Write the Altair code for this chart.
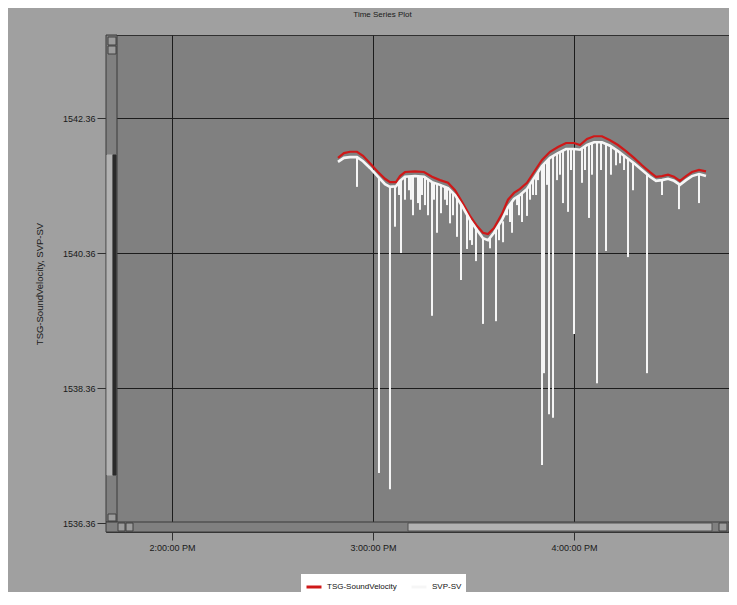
import altair as alt
import pandas as pd

DATE = "2014-06-10"
FONT = "Liberation Sans, Arial, sans-serif"

series_names = ["TSG-SoundVelocity", "SVP-SV"]
series_colors = ["#cf1818", "#f6f6f6"]

tsg_time = ["14:49:33", "14:51:20", "14:53:08", "14:55:13", "14:57:01", "14:59:06", "15:01:29", "15:03:35",
            "15:05:04", "15:06:52", "15:08:04", "15:09:33", "15:12:32", "15:15:13", "15:17:37", "15:20:00",
            "15:22:23", "15:24:29", "15:26:34", "15:28:57", "15:31:03", "15:32:50", "15:34:20", "15:36:07",
            "15:38:30", "15:40:18", "15:42:05", "15:43:53", "15:45:58", "15:48:04", "15:50:27", "15:52:50",
            "15:55:13", "15:57:37", "16:00:00", "16:01:47", "16:03:53", "16:05:58", "16:08:21", "16:10:45",
            "16:13:08", "16:15:31", "16:17:55", "16:20:18", "16:22:41", "16:24:29", "16:26:16", "16:28:04",
            "16:29:51", "16:31:38", "16:33:26", "16:35:13", "16:37:19", "16:39:24"]
tsg_val = [1541.77, 1541.84, 1541.86, 1541.86, 1541.80, 1541.69, 1541.56, 1541.46,
           1541.41, 1541.41, 1541.50, 1541.56, 1541.57, 1541.56, 1541.49, 1541.44,
           1541.40, 1541.29, 1541.12, 1540.91, 1540.76, 1540.66, 1540.64, 1540.73,
           1540.94, 1541.15, 1541.25, 1541.31, 1541.40, 1541.56, 1541.74, 1541.86,
           1541.93, 1541.99, 1541.99, 1541.96, 1542.05, 1542.09, 1542.09, 1542.03,
           1541.96, 1541.87, 1541.77, 1541.66, 1541.56, 1541.49, 1541.50, 1541.52,
           1541.49, 1541.43, 1541.50, 1541.56, 1541.59, 1541.57]

svp_time = list(tsg_time)
svp_val = [1541.71, 1541.77, 1541.78, 1541.78, 1541.72, 1541.62, 1541.49, 1541.38,
           1541.34, 1541.35, 1541.43, 1541.49, 1541.50, 1541.49, 1541.41, 1541.37,
           1541.32, 1541.22, 1541.06, 1540.85, 1540.70, 1540.58, 1540.55, 1540.66,
           1540.85, 1541.04, 1541.16, 1541.22, 1541.31, 1541.47, 1541.65, 1541.77,
           1541.84, 1541.90, 1541.90, 1541.89, 1541.96, 1542.00, 1542.00, 1541.95,
           1541.87, 1541.78, 1541.69, 1541.59, 1541.49, 1541.43, 1541.44, 1541.46,
           1541.43, 1541.37, 1541.44, 1541.50, 1541.53, 1541.50]

# SVP-SV dropouts (spikes): time, lowest value, value of the line where it starts
spike_time = ["14:55:13", "15:01:47", "15:05:04", "15:06:34", "15:07:46", "15:08:21", "15:09:33", "15:10:45",
              "15:11:20", "15:11:56", "15:13:26", "15:14:02", "15:14:38", "15:15:31", "15:16:25", "15:17:37",
              "15:18:13", "15:19:06", "15:20:18", "15:21:29", "15:22:05", "15:22:59", "15:23:53", "15:25:04",
              "15:26:16", "15:28:04", "15:28:57", "15:29:33", "15:30:45", "15:32:50", "15:34:56", "15:36:43",
              "15:37:37", "15:38:49", "15:40:00", "15:40:54", "15:41:30", "15:43:00", "15:43:35", "15:44:29",
              "15:45:58", "15:46:52", "15:47:46", "15:48:40", "15:49:15", "15:50:27", "15:51:03", "15:51:56",
              "15:52:32", "15:53:44", "15:54:56", "15:55:49", "15:56:43", "15:58:13", "15:59:06", "16:00:00",
              "16:02:23", "16:03:17", "16:04:29", "16:05:22", "16:06:52", "16:08:04", "16:09:33", "16:11:02",
              "16:12:32", "16:13:44", "16:14:56", "16:16:07", "16:17:37", "16:21:47", "16:26:16", "16:31:20",
              "16:37:19"]
spike_low = [1541.34, 1537.10, 1536.86, 1540.75, 1541.22, 1540.36, 1541.15, 1541.29,
             1541.15, 1540.92, 1541.10, 1541.00, 1541.22, 1541.07, 1540.92, 1539.43,
             1541.15, 1540.66, 1540.95, 1541.15, 1541.07, 1540.80, 1540.92, 1540.60,
             1539.96, 1540.42, 1540.55, 1540.48, 1540.24, 1539.31, 1540.43, 1539.35,
             1540.55, 1540.52, 1540.92, 1540.82, 1540.66, 1541.07, 1540.92, 1540.82,
             1540.91, 1541.15, 1541.22, 1541.22, 1541.44, 1537.22, 1538.58, 1541.37,
             1537.97, 1537.92, 1541.44, 1541.52, 1541.10, 1540.97, 1541.59, 1539.16,
             1541.40, 1541.59, 1540.88, 1541.52, 1538.43, 1541.59, 1540.39, 1541.52,
             1541.66, 1541.69, 1541.59, 1540.30, 1541.29, 1538.58, 1541.22, 1541.01,
             1541.10]
spike_top = [1541.78, 1541.48, 1541.34, 1541.35, 1541.40, 1541.44, 1541.49, 1541.50,
             1541.50, 1541.50, 1541.50, 1541.50, 1541.49, 1541.49, 1541.45, 1541.41,
             1541.40, 1541.39, 1541.37, 1541.34, 1541.32, 1541.30, 1541.25, 1541.18,
             1541.08, 1540.93, 1540.85, 1540.80, 1540.72, 1540.58, 1540.58, 1540.71,
             1540.78, 1540.83, 1541.02, 1541.08, 1541.12, 1541.19, 1541.21, 1541.24,
             1541.31, 1541.38, 1541.45, 1541.50, 1541.55, 1541.65, 1541.68, 1541.73,
             1541.76, 1541.80, 1541.83, 1541.86, 1541.88, 1541.90, 1541.90, 1541.90,
             1541.91, 1541.94, 1541.97, 1541.99, 1542.00, 1542.00, 1541.97, 1541.93,
             1541.89, 1541.84, 1541.80, 1541.76, 1541.70, 1541.53, 1541.44, 1541.38,
             1541.53]

y_ticks = [1536.36, 1538.36, 1540.36, 1542.36]
y_domain = [1536.227, 1543.590]
x_ticks = ["14:00:00", "15:00:00", "16:00:00"]
x_domain = ["13:40:18", "16:46:16"]


def ts(t):
    return f"{DATE}T{t}"


def dt(t):
    h, m, s = (int(p) for p in t.split(":"))
    return alt.DateTime(year=2014, month=6, date=10, hours=h, minutes=m, seconds=s)


tsg_df = pd.DataFrame({"time": [ts(t) for t in tsg_time], "value": tsg_val, "series": series_names[0]})
svp_df = pd.DataFrame({"time": [ts(t) for t in svp_time], "value": svp_val, "series": series_names[1]})
spike_df = pd.DataFrame({"time": [ts(t) for t in spike_time], "low": spike_low, "top": spike_top,
                         "series": series_names[1]})

color = alt.Color(
    "series:N",
    scale=alt.Scale(domain=series_names, range=series_colors),
    legend=alt.Legend(
        title=None, orient="none", legendX=195, legendY=539, direction="horizontal",
        fillColor="white", padding=4, symbolType="stroke", symbolStrokeWidth=3, symbolSize=225,
        labelFont=FONT, labelFontSize=8, labelColor="#111111", columnPadding=8, labelOffset=4,
    ),
)

x_enc = alt.X(
    "time:T",
    scale=alt.Scale(domain=[dt(x_domain[0]), dt(x_domain[1])]),
    axis=alt.Axis(
        values=[dt(t) for t in x_ticks], format="%-I:%M:%S %p", title=None,
        labelFont=FONT, labelFontSize=9, labelColor="#1a1a1a", labelPadding=3, labelFlush=False,
        tickSize=8, tickColor="#303030", domain=False, gridColor="#1c1c1c", gridWidth=1,
    ),
)
y_enc_axis = alt.Axis(
    values=y_ticks, format=".2f", title="TSG-SoundVelocity, SVP-SV",
    titleFont=FONT, titleFontSize=9.5, titleFontWeight="normal", titleColor="#1a1a1a",
    titleX=-62, titleY=248.5, titleAlign="center",
    labelFont=FONT, labelFontSize=9, labelColor="#1a1a1a", labelPadding=2, labelFlush=False,
    tickSize=9, tickColor="#303030", domain=False, gridColor="#1c1c1c", gridWidth=1,
)
y_scale = alt.Scale(domain=y_domain, nice=False, zero=False)

red = alt.Chart(tsg_df).mark_line(strokeWidth=2.2).encode(
    x=x_enc, y=alt.Y("value:Q", scale=y_scale, axis=y_enc_axis), color=color
)
white = alt.Chart(svp_df).mark_line(strokeWidth=2.6).encode(
    x="time:T", y=alt.Y("value:Q", scale=y_scale), color=color
)
spikes = alt.Chart(spike_df).mark_rule(strokeWidth=2).encode(
    x="time:T", y=alt.Y("low:Q", scale=y_scale), y2="top:Q", color=color
)

# window decorations (scrollbars of the original plot control), in pixels of the plot area
decor = [
    (0, 11, 0, 487, "#808080", "#3a3a3a"),
    (1, 6, 120, 440, "#b2b2b2", "#b2b2b2"),
    (7, 10, 120, 440, "#2a2a2a", "#2a2a2a"),
    (2, 10, 2, 10, "#9c9c9c", "#404040"),
    (2, 10, 11, 19, "#9c9c9c", "#404040"),
    (2, 10, 479, 486, "#9c9c9c", "#404040"),
    (0, 623, 487, 497, "#808080", "#3a3a3a"),
    (302, 606, 488, 496, "#b2b2b2", "#505050"),
    (12, 19, 488, 496, "#9c9c9c", "#404040"),
    (20, 27, 488, 496, "#9c9c9c", "#404040"),
    (613, 621, 488, 496, "#9c9c9c", "#404040"),
]
dummy = pd.DataFrame({"a": [1]})
decor_layers = [
    alt.Chart(dummy).mark_rect(fill=f, stroke=s, strokeWidth=1).encode(
        x=alt.value(x0), x2=alt.value(x1), y=alt.value(y0), y2=alt.value(y1)
    )
    for (x0, x1, y0, y1, f, s) in decor
]

chart = alt.layer(red, white, spikes, *decor_layers).properties(
    width=623,
    height=497,
    padding={"left": 98, "top": 27, "right": 0, "bottom": 60},
    autosize=alt.AutoSizeParams(type="none"),
    background="#a0a0a0",
    title=alt.Title("Time Series Plot", font=FONT, fontSize=8, fontWeight="normal", color="#1a1a1a",
                    anchor="middle", dx=-35, offset=16),
).configure_view(fill="#808080", stroke="#303030", strokeWidth=1)

chart.save("out.html", embed_options={"renderer": "svg", "actions": False})
